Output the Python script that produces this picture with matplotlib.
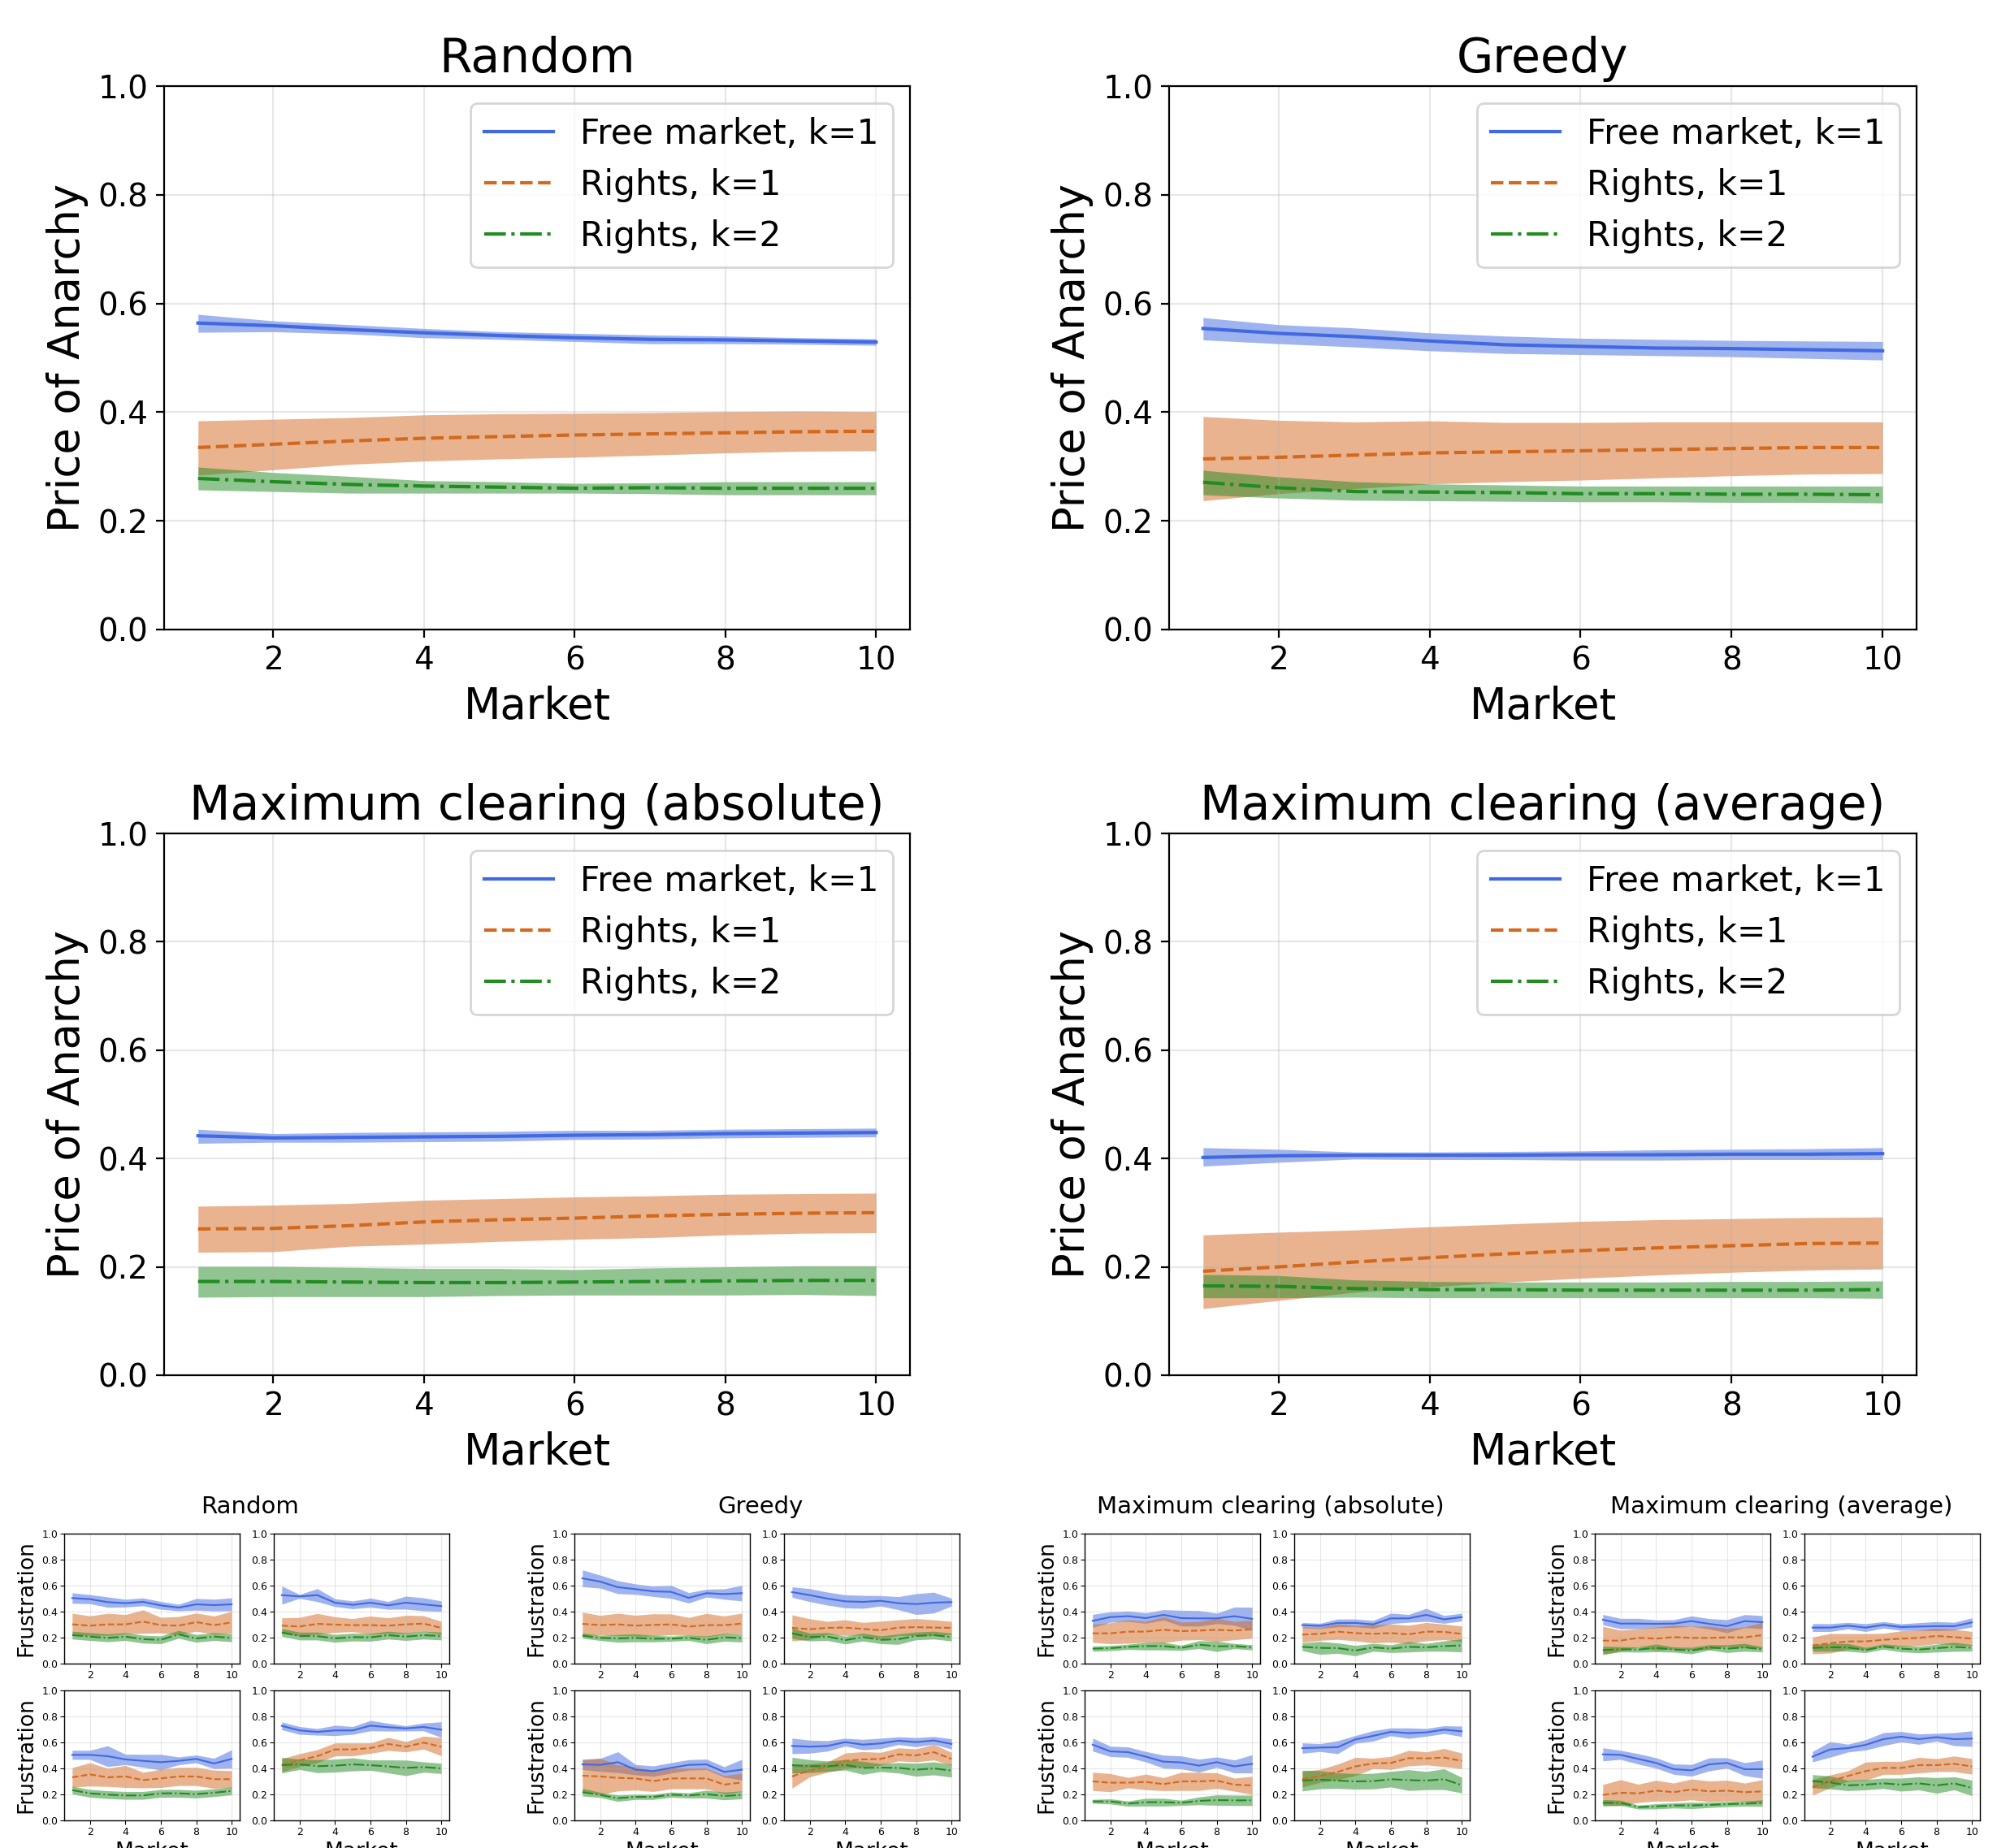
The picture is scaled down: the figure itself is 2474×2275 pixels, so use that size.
import matplotlib.pyplot as plt

W, H = 2474, 2275
DPI = 200

markets = list(range(1, 11))
strategies = ["Random", "Greedy", "Maximum clearing (absolute)", "Maximum clearing (average)"]
series_labels = ["Free market, k=1", "Rights, k=1", "Rights, k=2"]
colors = ["royalblue", "chocolate", "forestgreen"]
styles = ["-", "--", "-."]

# Price of anarchy: mean and band edges, rows = free market k=1, rights k=1, rights k=2
poa_random_mean = [[0.564, 0.559, 0.552, 0.546, 0.541, 0.537, 0.534, 0.533, 0.531, 0.529],
                   [0.335, 0.341, 0.347, 0.352, 0.355, 0.358, 0.360, 0.362, 0.364, 0.365],
                   [0.278, 0.272, 0.267, 0.264, 0.262, 0.260, 0.261, 0.260, 0.260, 0.260]]
poa_random_lo = [[0.547, 0.548, 0.544, 0.537, 0.534, 0.530, 0.526, 0.526, 0.525, 0.523],
                 [0.284, 0.294, 0.304, 0.310, 0.314, 0.317, 0.321, 0.325, 0.328, 0.329],
                 [0.257, 0.254, 0.251, 0.251, 0.251, 0.251, 0.250, 0.248, 0.248, 0.248]]
poa_random_hi = [[0.580, 0.568, 0.561, 0.554, 0.548, 0.545, 0.542, 0.540, 0.537, 0.535],
                 [0.384, 0.387, 0.390, 0.395, 0.397, 0.398, 0.399, 0.401, 0.402, 0.401],
                 [0.299, 0.289, 0.282, 0.274, 0.272, 0.269, 0.270, 0.272, 0.272, 0.272]]

poa_greedy_mean = [[0.554, 0.545, 0.539, 0.531, 0.524, 0.521, 0.518, 0.517, 0.515, 0.513],
                   [0.314, 0.317, 0.321, 0.325, 0.327, 0.329, 0.331, 0.333, 0.335, 0.335],
                   [0.271, 0.261, 0.254, 0.253, 0.252, 0.250, 0.250, 0.249, 0.249, 0.248]]
poa_greedy_lo = [[0.533, 0.526, 0.520, 0.513, 0.508, 0.506, 0.504, 0.502, 0.499, 0.496],
                 [0.237, 0.250, 0.259, 0.268, 0.272, 0.275, 0.279, 0.283, 0.286, 0.287],
                 [0.248, 0.242, 0.238, 0.237, 0.236, 0.235, 0.235, 0.234, 0.234, 0.233]]
poa_greedy_hi = [[0.574, 0.561, 0.555, 0.546, 0.540, 0.536, 0.534, 0.532, 0.531, 0.530],
                 [0.392, 0.385, 0.382, 0.384, 0.381, 0.381, 0.382, 0.382, 0.382, 0.382],
                 [0.293, 0.281, 0.272, 0.268, 0.266, 0.264, 0.264, 0.264, 0.264, 0.264]]

poa_maxabs_mean = [[0.442, 0.438, 0.439, 0.440, 0.441, 0.443, 0.444, 0.446, 0.447, 0.448],
                   [0.270, 0.271, 0.276, 0.283, 0.287, 0.290, 0.294, 0.297, 0.299, 0.300],
                   [0.173, 0.173, 0.172, 0.171, 0.171, 0.172, 0.173, 0.174, 0.175, 0.175]]
poa_maxabs_lo = [[0.428, 0.430, 0.430, 0.431, 0.432, 0.435, 0.436, 0.438, 0.439, 0.440],
                 [0.227, 0.228, 0.238, 0.242, 0.247, 0.251, 0.254, 0.259, 0.262, 0.263],
                 [0.144, 0.145, 0.145, 0.145, 0.147, 0.148, 0.148, 0.148, 0.149, 0.147]]
poa_maxabs_hi = [[0.454, 0.446, 0.448, 0.449, 0.450, 0.452, 0.452, 0.454, 0.455, 0.456],
                 [0.312, 0.314, 0.317, 0.323, 0.326, 0.329, 0.331, 0.334, 0.335, 0.336],
                 [0.201, 0.201, 0.199, 0.197, 0.197, 0.195, 0.198, 0.200, 0.202, 0.202]]

poa_maxavg_mean = [[0.402, 0.405, 0.406, 0.406, 0.406, 0.407, 0.407, 0.408, 0.408, 0.409],
                   [0.192, 0.200, 0.209, 0.217, 0.224, 0.230, 0.235, 0.239, 0.243, 0.244],
                   [0.165, 0.164, 0.160, 0.158, 0.158, 0.157, 0.157, 0.157, 0.157, 0.158]]
poa_maxavg_lo = [[0.386, 0.393, 0.399, 0.398, 0.398, 0.397, 0.397, 0.398, 0.398, 0.398],
                 [0.123, 0.138, 0.153, 0.163, 0.172, 0.179, 0.185, 0.190, 0.194, 0.196],
                 [0.143, 0.143, 0.144, 0.143, 0.143, 0.143, 0.143, 0.143, 0.143, 0.142]]
poa_maxavg_hi = [[0.420, 0.417, 0.412, 0.412, 0.413, 0.414, 0.416, 0.417, 0.418, 0.420],
                 [0.259, 0.264, 0.268, 0.274, 0.279, 0.284, 0.287, 0.289, 0.291, 0.292],
                 [0.186, 0.184, 0.176, 0.173, 0.172, 0.172, 0.172, 0.173, 0.173, 0.174]]

# Frustration, four panels per strategy (a=top left, b=top right, c=bottom left, d=bottom right)
# mean and half width of the band
fr_random_a = [[0.504, 0.496, 0.473, 0.465, 0.475, 0.448, 0.431, 0.456, 0.450, 0.456],
               [0.302, 0.292, 0.302, 0.302, 0.323, 0.296, 0.292, 0.319, 0.296, 0.317],
               [0.219, 0.208, 0.198, 0.208, 0.188, 0.183, 0.225, 0.194, 0.208, 0.198]]
fr_random_a_err = [[0.04, 0.035, 0.04, 0.03, 0.03, 0.03, 0.025, 0.045, 0.045, 0.05],
                   [0.085, 0.075, 0.085, 0.075, 0.09, 0.06, 0.07, 0.07, 0.07, 0.085],
                   [0.03, 0.03, 0.03, 0.03, 0.03, 0.03, 0.03, 0.03, 0.03, 0.03]]
fr_random_b = [[0.527, 0.517, 0.527, 0.469, 0.452, 0.469, 0.448, 0.469, 0.456, 0.442],
               [0.292, 0.285, 0.306, 0.300, 0.296, 0.296, 0.292, 0.302, 0.308, 0.275],
               [0.240, 0.212, 0.212, 0.194, 0.204, 0.202, 0.219, 0.208, 0.219, 0.212]]
fr_random_b_err = [[0.07, 0.015, 0.05, 0.03, 0.03, 0.035, 0.03, 0.05, 0.05, 0.04],
                   [0.06, 0.07, 0.08, 0.06, 0.05, 0.07, 0.06, 0.07, 0.06, 0.05],
                   [0.03, 0.03, 0.03, 0.03, 0.03, 0.03, 0.03, 0.03, 0.03, 0.03]]
fr_random_c = [[0.504, 0.504, 0.494, 0.469, 0.458, 0.448, 0.458, 0.473, 0.438, 0.473],
               [0.331, 0.354, 0.331, 0.338, 0.310, 0.323, 0.338, 0.338, 0.317, 0.317],
               [0.233, 0.208, 0.198, 0.192, 0.192, 0.208, 0.208, 0.202, 0.213, 0.227]]
fr_random_c_err = [[0.035, 0.035, 0.08, 0.04, 0.05, 0.06, 0.03, 0.03, 0.04, 0.07],
                   [0.075, 0.09, 0.07, 0.085, 0.06, 0.07, 0.07, 0.07, 0.07, 0.065],
                   [0.03, 0.03, 0.03, 0.03, 0.03, 0.03, 0.03, 0.03, 0.03, 0.03]]
fr_random_d = [[0.727, 0.692, 0.681, 0.692, 0.692, 0.729, 0.717, 0.708, 0.719, 0.698],
               [0.425, 0.463, 0.494, 0.546, 0.546, 0.556, 0.588, 0.567, 0.598, 0.567],
               [0.425, 0.431, 0.417, 0.421, 0.431, 0.425, 0.415, 0.404, 0.410, 0.400]]
fr_random_d_err = [[0.03, 0.03, 0.025, 0.04, 0.03, 0.04, 0.03, 0.02, 0.03, 0.06],
                   [0.05, 0.05, 0.05, 0.05, 0.05, 0.04, 0.05, 0.04, 0.05, 0.07],
                   [0.06, 0.04, 0.05, 0.05, 0.05, 0.04, 0.05, 0.06, 0.04, 0.04]]

fr_greedy_a = [[0.656, 0.631, 0.588, 0.573, 0.556, 0.552, 0.506, 0.542, 0.535, 0.542],
               [0.306, 0.296, 0.302, 0.292, 0.298, 0.302, 0.285, 0.296, 0.296, 0.308],
               [0.215, 0.198, 0.194, 0.198, 0.192, 0.192, 0.198, 0.183, 0.202, 0.196]]
fr_greedy_a_err = [[0.065, 0.05, 0.05, 0.04, 0.04, 0.05, 0.04, 0.03, 0.04, 0.06],
                   [0.09, 0.075, 0.085, 0.08, 0.085, 0.08, 0.07, 0.09, 0.07, 0.08],
                   [0.02, 0.02, 0.03, 0.03, 0.025, 0.02, 0.02, 0.03, 0.03, 0.03]]
fr_greedy_b = [[0.550, 0.527, 0.500, 0.479, 0.475, 0.483, 0.465, 0.458, 0.469, 0.473],
               [0.275, 0.265, 0.275, 0.277, 0.267, 0.256, 0.277, 0.281, 0.277, 0.275],
               [0.233, 0.204, 0.208, 0.181, 0.204, 0.183, 0.188, 0.213, 0.219, 0.204]]
fr_greedy_b_err = [[0.04, 0.05, 0.05, 0.05, 0.05, 0.04, 0.05, 0.08, 0.08, 0.03],
                   [0.10, 0.08, 0.05, 0.06, 0.05, 0.07, 0.06, 0.065, 0.06, 0.05],
                   [0.04, 0.03, 0.03, 0.03, 0.03, 0.03, 0.04, 0.03, 0.03, 0.03]]
fr_greedy_c = [[0.431, 0.427, 0.448, 0.390, 0.379, 0.404, 0.427, 0.431, 0.373, 0.390],
               [0.344, 0.338, 0.327, 0.323, 0.302, 0.323, 0.323, 0.323, 0.275, 0.292],
               [0.217, 0.196, 0.171, 0.181, 0.181, 0.198, 0.192, 0.202, 0.188, 0.196]]
fr_greedy_c_err = [[0.04, 0.05, 0.08, 0.04, 0.04, 0.04, 0.04, 0.04, 0.04, 0.08],
                   [0.12, 0.14, 0.10, 0.09, 0.08, 0.08, 0.08, 0.08, 0.07, 0.07],
                   [0.03, 0.02, 0.025, 0.02, 0.02, 0.02, 0.02, 0.03, 0.03, 0.03]]
fr_greedy_d = [[0.573, 0.567, 0.573, 0.602, 0.583, 0.592, 0.613, 0.602, 0.615, 0.588],
               [0.338, 0.385, 0.410, 0.458, 0.469, 0.473, 0.508, 0.500, 0.525, 0.473],
               [0.425, 0.417, 0.417, 0.427, 0.404, 0.406, 0.404, 0.390, 0.400, 0.383]]
fr_greedy_d_err = [[0.06, 0.05, 0.04, 0.03, 0.04, 0.04, 0.03, 0.035, 0.03, 0.04],
                   [0.09, 0.05, 0.04, 0.06, 0.06, 0.05, 0.05, 0.05, 0.06, 0.05],
                   [0.06, 0.05, 0.04, 0.04, 0.05, 0.03, 0.04, 0.05, 0.05, 0.05]]

fr_maxabs_a = [[0.329, 0.358, 0.365, 0.350, 0.375, 0.350, 0.348, 0.348, 0.365, 0.344],
               [0.233, 0.233, 0.246, 0.246, 0.260, 0.250, 0.254, 0.260, 0.254, 0.265],
               [0.115, 0.119, 0.129, 0.135, 0.135, 0.121, 0.146, 0.133, 0.135, 0.125]]
fr_maxabs_a_err = [[0.05, 0.04, 0.04, 0.04, 0.04, 0.06, 0.06, 0.04, 0.07, 0.09],
                   [0.07, 0.08, 0.09, 0.08, 0.10, 0.07, 0.07, 0.09, 0.07, 0.07],
                   [0.02, 0.02, 0.02, 0.03, 0.03, 0.02, 0.03, 0.04, 0.02, 0.02]]
fr_maxabs_b = [[0.296, 0.290, 0.313, 0.313, 0.302, 0.348, 0.348, 0.375, 0.340, 0.358],
               [0.223, 0.229, 0.246, 0.235, 0.229, 0.235, 0.225, 0.246, 0.244, 0.229],
               [0.129, 0.121, 0.119, 0.100, 0.125, 0.115, 0.129, 0.125, 0.135, 0.140]]
fr_maxabs_b_err = [[0.02, 0.02, 0.03, 0.03, 0.03, 0.04, 0.03, 0.05, 0.03, 0.03],
                   [0.06, 0.05, 0.06, 0.06, 0.07, 0.07, 0.07, 0.07, 0.06, 0.06],
                   [0.03, 0.05, 0.04, 0.04, 0.03, 0.03, 0.04, 0.03, 0.04, 0.05]]
fr_maxabs_c = [[0.583, 0.531, 0.525, 0.490, 0.452, 0.446, 0.421, 0.448, 0.415, 0.435],
               [0.300, 0.290, 0.290, 0.296, 0.279, 0.300, 0.300, 0.306, 0.275, 0.269],
               [0.146, 0.146, 0.129, 0.140, 0.140, 0.135, 0.150, 0.156, 0.154, 0.154]]
fr_maxabs_c_err = [[0.05, 0.04, 0.04, 0.04, 0.05, 0.05, 0.05, 0.04, 0.05, 0.07],
                   [0.07, 0.07, 0.04, 0.06, 0.05, 0.07, 0.07, 0.06, 0.05, 0.07],
                   [0.015, 0.02, 0.02, 0.03, 0.03, 0.02, 0.03, 0.04, 0.04, 0.04]]
fr_maxabs_d = [[0.556, 0.560, 0.563, 0.623, 0.650, 0.681, 0.671, 0.677, 0.698, 0.685],
               [0.317, 0.342, 0.373, 0.415, 0.438, 0.442, 0.479, 0.477, 0.483, 0.458],
               [0.306, 0.313, 0.306, 0.300, 0.302, 0.317, 0.310, 0.306, 0.317, 0.271]]
fr_maxabs_d_err = [[0.04, 0.03, 0.05, 0.03, 0.04, 0.03, 0.04, 0.03, 0.03, 0.04],
                   [0.06, 0.05, 0.06, 0.07, 0.04, 0.05, 0.06, 0.05, 0.07, 0.06],
                   [0.08, 0.07, 0.06, 0.06, 0.06, 0.06, 0.08, 0.07, 0.08, 0.06]]

fr_maxavg_a = [[0.338, 0.308, 0.308, 0.306, 0.308, 0.327, 0.306, 0.288, 0.327, 0.319],
               [0.177, 0.177, 0.198, 0.192, 0.204, 0.198, 0.198, 0.202, 0.202, 0.219],
               [0.104, 0.110, 0.108, 0.121, 0.108, 0.100, 0.125, 0.115, 0.125, 0.110]]
fr_maxavg_a_err = [[0.04, 0.04, 0.04, 0.03, 0.03, 0.04, 0.04, 0.05, 0.05, 0.05],
                   [0.11, 0.08, 0.07, 0.09, 0.09, 0.09, 0.09, 0.07, 0.08, 0.10],
                   [0.03, 0.02, 0.02, 0.03, 0.02, 0.025, 0.02, 0.03, 0.03, 0.02]]
fr_maxavg_b = [[0.277, 0.277, 0.292, 0.277, 0.298, 0.281, 0.285, 0.288, 0.288, 0.317],
               [0.140, 0.156, 0.171, 0.171, 0.183, 0.192, 0.198, 0.213, 0.204, 0.192],
               [0.121, 0.125, 0.125, 0.104, 0.131, 0.115, 0.108, 0.119, 0.129, 0.121]]
fr_maxavg_b_err = [[0.03, 0.03, 0.025, 0.03, 0.025, 0.025, 0.03, 0.035, 0.03, 0.035],
                   [0.065, 0.075, 0.06, 0.06, 0.05, 0.06, 0.06, 0.06, 0.06, 0.055],
                   [0.025, 0.03, 0.03, 0.02, 0.02, 0.025, 0.025, 0.03, 0.035, 0.025]]
fr_maxavg_c = [[0.508, 0.504, 0.473, 0.442, 0.394, 0.385, 0.431, 0.442, 0.394, 0.394],
               [0.196, 0.213, 0.208, 0.229, 0.217, 0.238, 0.223, 0.229, 0.217, 0.223],
               [0.135, 0.135, 0.102, 0.108, 0.115, 0.115, 0.119, 0.125, 0.129, 0.133]]
fr_maxavg_c_err = [[0.05, 0.035, 0.04, 0.04, 0.04, 0.045, 0.05, 0.04, 0.05, 0.07],
                   [0.08, 0.10, 0.07, 0.08, 0.07, 0.08, 0.08, 0.08, 0.07, 0.09],
                   [0.025, 0.02, 0.015, 0.02, 0.02, 0.025, 0.02, 0.02, 0.02, 0.025]]
fr_maxavg_d = [[0.490, 0.546, 0.556, 0.581, 0.625, 0.644, 0.625, 0.640, 0.625, 0.629],
               [0.254, 0.300, 0.342, 0.379, 0.404, 0.404, 0.425, 0.425, 0.435, 0.415],
               [0.302, 0.292, 0.269, 0.275, 0.285, 0.275, 0.285, 0.269, 0.285, 0.250]]
fr_maxavg_d_err = [[0.04, 0.06, 0.03, 0.04, 0.05, 0.04, 0.04, 0.03, 0.05, 0.06],
                   [0.06, 0.05, 0.04, 0.07, 0.05, 0.05, 0.06, 0.05, 0.06, 0.06],
                   [0.05, 0.05, 0.04, 0.04, 0.04, 0.05, 0.05, 0.06, 0.05, 0.06]]


def box(left, right, top, bottom):
    # pixel box in the 2474x2275 picture -> figure fraction
    return [left / W, 1 - bottom / H, (right - left) / W, (bottom - top) / H]


fig = plt.figure(figsize=(W / DPI, H / DPI), dpi=DPI)

# --- big price of anarchy panels ---
poa_data = [(poa_random_mean, poa_random_lo, poa_random_hi),
            (poa_greedy_mean, poa_greedy_lo, poa_greedy_hi),
            (poa_maxabs_mean, poa_maxabs_lo, poa_maxabs_hi),
            (poa_maxavg_mean, poa_maxavg_lo, poa_maxavg_hi)]
big_cols = [(202, 1120), (1439, 2359)]
big_rows = [(106, 775), (1026, 1693)]

for n, (means, los, his) in enumerate(poa_data):
    l, r = big_cols[n % 2]
    t, b = big_rows[n // 2]
    ax = fig.add_axes(box(l, r, t, b))
    for s in range(3):
        ax.fill_between(markets, los[s], his[s], color=colors[s], alpha=0.5, linewidth=0)
        ax.plot(markets, means[s], color=colors[s], linestyle=styles[s], linewidth=1.5,
                label=series_labels[s])
    ax.set_ylim(0, 1)
    ax.set_title(strategies[n], fontsize=21)
    ax.set_xlabel("Market", fontsize=19)
    ax.set_ylabel("Price of Anarchy", fontsize=19)
    ax.tick_params(labelsize=14)
    ax.grid(alpha=0.3)
    ax.legend(loc="upper right", fontsize=15.2)

# --- small frustration panels ---
fr_data = [
    [(fr_random_a, fr_random_a_err), (fr_random_b, fr_random_b_err),
     (fr_random_c, fr_random_c_err), (fr_random_d, fr_random_d_err)],
    [(fr_greedy_a, fr_greedy_a_err), (fr_greedy_b, fr_greedy_b_err),
     (fr_greedy_c, fr_greedy_c_err), (fr_greedy_d, fr_greedy_d_err)],
    [(fr_maxabs_a, fr_maxabs_a_err), (fr_maxabs_b, fr_maxabs_b_err),
     (fr_maxabs_c, fr_maxabs_c_err), (fr_maxabs_d, fr_maxabs_d_err)],
    [(fr_maxavg_a, fr_maxavg_a_err), (fr_maxavg_b, fr_maxavg_b_err),
     (fr_maxavg_c, fr_maxavg_c_err), (fr_maxavg_d, fr_maxavg_d_err)],
]
left_cols = [79, 707, 1335, 1963]
right_cols = [337, 965, 1593, 2221]
small_w = 216
small_rows = [(1888, 2048), (2081, 2241)]
title_x = [308, 936, 1564, 2193]

for g, panels in enumerate(fr_data):
    fig.text(title_x[g] / W, 1 - 1855 / H, strategies[g], fontsize=10.5, ha="center", va="center")
    for p, (means, errs) in enumerate(panels):
        l = left_cols[g] if p % 2 == 0 else right_cols[g]
        t, b = small_rows[p // 2]
        ax = fig.add_axes(box(l, l + small_w, t, b))
        for s in range(3):
            lo = [m - e for m, e in zip(means[s], errs[s])]
            hi = [m + e for m, e in zip(means[s], errs[s])]
            ax.fill_between(markets, lo, hi, color=colors[s], alpha=0.5, linewidth=0)
            ax.plot(markets, means[s], color=colors[s], linestyle=styles[s], linewidth=0.75)
        ax.set_ylim(0, 1)
        ax.set_yticks([0, 0.2, 0.4, 0.6, 0.8, 1.0])
        ax.tick_params(labelsize=4.5, length=1.8, width=0.4, pad=1)
        for sp in ax.spines.values():
            sp.set_linewidth(0.5)
        ax.grid(alpha=0.3, linewidth=0.4)
        if p % 2 == 0:
            ax.set_ylabel("Frustration", fontsize=9.5, labelpad=2)
        if p >= 2:
            ax.set_xlabel("Market", fontsize=9.5, labelpad=2)

fig.savefig("out.png", dpi=DPI)
